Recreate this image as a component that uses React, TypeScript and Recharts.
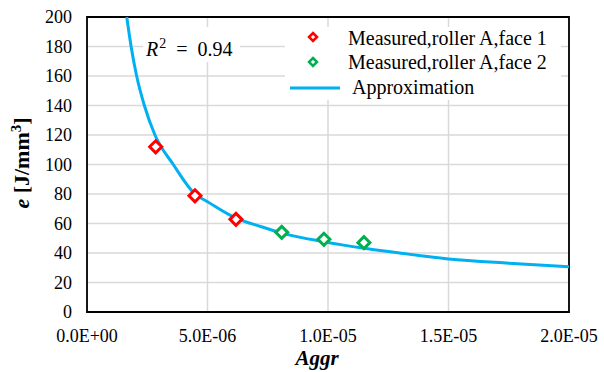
import {
  ComposedChart,
  Scatter,
  Line,
  XAxis,
  YAxis,
  CartesianGrid,
  Legend,
  ReferenceArea,
} from 'recharts'

document.body.style.margin = '0'

// measured points, roller A
const FACE1_AGGR = [2.85e-6, 4.48e-6, 6.18e-6]
const FACE1_E = [112, 78.8, 62.8]
const FACE2_AGGR = [8.08e-6, 9.83e-6, 1.149e-5]
const FACE2_E = [54, 49.3, 47]

// approximation curve
const FIT_AGGR = [
  1.65e-6, 1.83e-6, 2.06e-6, 2.38e-6, 2.82e-6, 3.58e-6, 4.48e-6, 5e-6, 6.2e-6, 7.2e-6,
  8.1e-6, 9.8e-6, 1.15e-5, 1.25e-5, 1.5e-5, 1.75e-5, 2e-5,
]
const FIT_E = [200, 180, 160, 140, 120, 100, 80, 74.8, 63.5, 58, 53.5, 47.7, 43.2, 41, 36, 33.1, 30.7]

const X_TICKS = [0, 5e-6, 1e-5, 1.5e-5, 2e-5]
const X_TICK_LABELS = ['0.0E+00', '5.0E-06', '1.0E-05', '1.5E-05', '2.0E-05']
const Y_TICKS = [0, 20, 40, 60, 80, 100, 120, 140, 160, 180, 200]

const SERIES_NAMES = ['Measured,roller A,face 1', 'Measured,roller A,face 2', 'Approximation']
const RED = '#ff0000'
const GREEN = '#00b050'
const BLUE = '#00b0f0'
const FONT = "'Liberation Serif', 'DejaVu Serif', serif"

const face1 = FACE1_AGGR.map((x, i) => ({ x, y: FACE1_E[i] }))
const face2 = FACE2_AGGR.map((x, i) => ({ x, y: FACE2_E[i] }))
const fit = FIT_AGGR.map((x, i) => ({ x, y: FIT_E[i] }))

const tickStyle = { fontFamily: FONT, fontSize: 18, fill: '#000' }

function diamond(color: string, r: number, sw: number) {
  return (props: any) => {
    const { cx, cy } = props
    return (
      <path
        d={`M${cx},${cy - r}L${cx + r},${cy}L${cx},${cy + r}L${cx - r},${cy}Z`}
        fill="#fff"
        stroke={color}
        strokeWidth={sw}
      />
    )
  }
}

function XTick(props: any) {
  const { x, y, payload } = props
  const i = X_TICKS.indexOf(payload.value)
  return (
    <text x={x} y={y} dy={11} textAnchor="middle" style={tickStyle}>
      {X_TICK_LABELS[i] ?? ''}
    </text>
  )
}

function YTick(props: any) {
  const { x, y, payload } = props
  return (
    <text x={x} y={y} dy={6} textAnchor="end" style={tickStyle}>
      {payload.value}
    </text>
  )
}

function LegendBox() {
  const textStyle = { position: 'absolute' as const, fontSize: 20, lineHeight: '20px', whiteSpace: 'nowrap' as const }
  return (
    <div style={{ position: 'relative', width: 276, height: 73, background: '#fff', fontFamily: FONT, color: '#000' }}>
      <svg width={60} height={73} style={{ position: 'absolute', left: 0, top: 0 }}>
        <path d="M28,6L32,10L28,14L24,10Z" fill="#fff" stroke={RED} strokeWidth={2.5} />
        <path d="M28,31L32,35L28,39L24,35Z" fill="#fff" stroke={GREEN} strokeWidth={2.5} />
        <line x1={5} y1={61} x2={55} y2={61} stroke={BLUE} strokeWidth={3} />
      </svg>
      <div style={{ ...textStyle, left: 63, top: 1 }}>{SERIES_NAMES[0]}</div>
      <div style={{ ...textStyle, left: 63, top: 25 }}>{SERIES_NAMES[1]}</div>
      <div style={{ ...textStyle, left: 67, top: 50 }}>{SERIES_NAMES[2]}</div>
    </div>
  )
}

export default function App() {
  return (
    <div style={{ position: 'relative', width: 604, height: 372, background: '#fff', fontFamily: FONT }}>
      <ComposedChart
        width={604}
        height={372}
        margin={{ top: 17, right: 35, bottom: 0, left: 0 }}
        style={{ fontFamily: FONT }}
      >
        <CartesianGrid stroke="#d9d9d9" strokeWidth={1.5} />
        <XAxis
          type="number"
          dataKey="x"
          domain={[0, 2e-5]}
          ticks={X_TICKS}
          height={60}
          axisLine={false}
          tickLine={false}
          tickSize={0}
          tickMargin={19}
          tick={<XTick />}
          interval={0}
        />
        <YAxis
          type="number"
          dataKey="y"
          domain={[0, 200]}
          ticks={Y_TICKS}
          width={87}
          axisLine={false}
          tickLine={false}
          tickSize={0}
          tickMargin={15}
          tick={<YTick />}
          interval={0}
        />
        <ReferenceArea x1={0} x2={2e-5} y1={0} y2={200} fill="none" fillOpacity={0} stroke="#000" strokeWidth={1.8} />
        <Line
          data={fit}
          dataKey="y"
          type="monotone"
          stroke={BLUE}
          strokeWidth={3}
          dot={false}
          activeDot={false}
          isAnimationActive={false}
          name={SERIES_NAMES[2]}
        />
        <Scatter data={face1} dataKey="y" shape={diamond(RED, 6, 3)} isAnimationActive={false} name={SERIES_NAMES[0]} />
        <Scatter data={face2} dataKey="y" shape={diamond(GREEN, 6, 3)} isAnimationActive={false} name={SERIES_NAMES[1]} />
        <Legend
          layout="vertical"
          align="center"
          verticalAlign="middle"
          content={() => <LegendBox />}
          wrapperStyle={{ position: 'absolute', left: 285, top: 27, width: 276, height: 73 }}
        />
      </ComposedChart>

      {/* R^2 annotation */}
      <div
        style={{
          position: 'absolute',
          left: 143,
          top: 27,
          width: 97,
          height: 35,
          background: '#fff',
          boxSizing: 'border-box',
          paddingTop: 12,
          paddingLeft: 3,
          fontSize: 20,
          lineHeight: '20px',
          whiteSpace: 'nowrap',
        }}
      >
        <span style={{ fontStyle: 'italic' }}>R</span>
        <span style={{ fontSize: 14, position: 'relative', top: -8, marginLeft: 1 }}>2</span>
        {'\u2002=\u20020.94'}
      </div>

      {/* y axis title */}
      <div
        style={{
          position: 'absolute',
          left: 23,
          top: 163,
          transform: 'translate(-50%, -50%) rotate(-90deg)',
          fontSize: 22,
          fontWeight: 'bold',
          whiteSpace: 'nowrap',
          lineHeight: '22px',
        }}
      >
        <span style={{ fontStyle: 'italic' }}>e</span> [J/mm
        <span style={{ fontSize: 15, position: 'relative', top: -8 }}>3</span>]
      </div>

      {/* x axis title */}
      <div
        style={{
          position: 'absolute',
          left: 317,
          top: 358,
          transform: 'translate(-50%, -50%)',
          fontSize: 21,
          fontWeight: 'bold',
          fontStyle: 'italic',
          whiteSpace: 'nowrap',
          lineHeight: '16px',
        }}
      >
        Aggr
      </div>
    </div>
  )
}
